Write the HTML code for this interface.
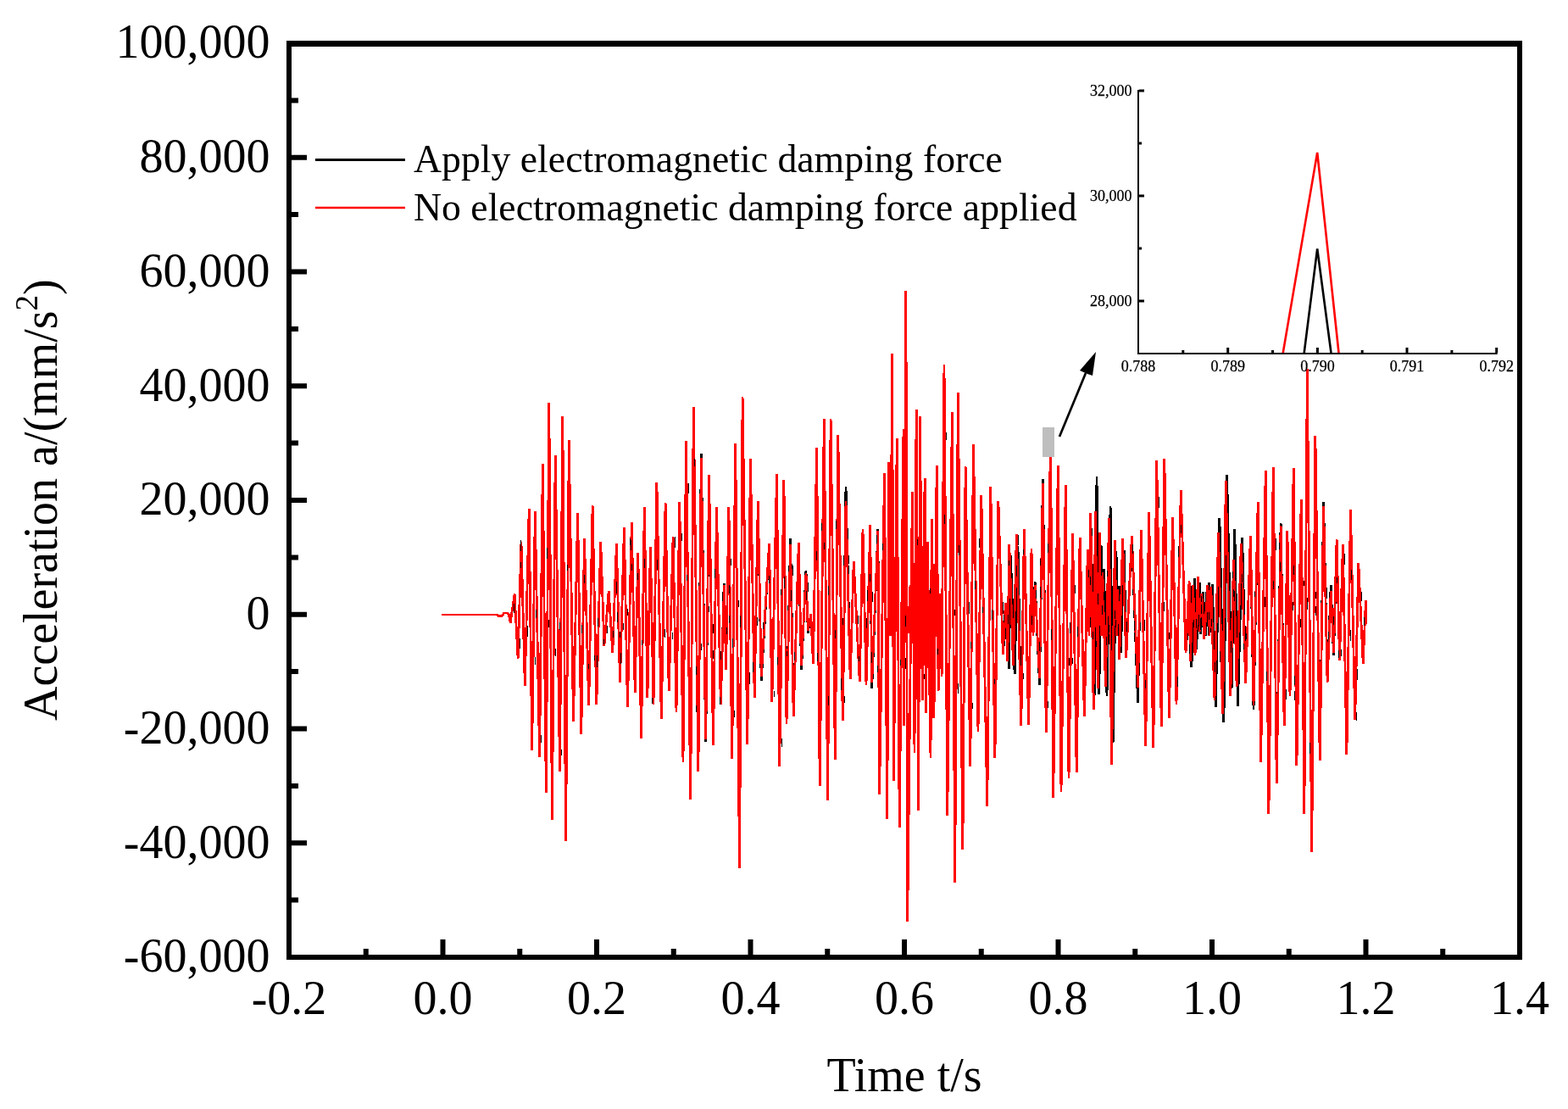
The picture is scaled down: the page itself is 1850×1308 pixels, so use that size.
<!DOCTYPE html><html><head><meta charset="utf-8"><style>html,body{margin:0;padding:0;background:#fff;width:1850px;height:1308px;overflow:hidden}svg{display:block}text{font-family:"Liberation Serif","Times New Roman",serif;fill:#000}</style></head><body><svg width="1850" height="1308" viewBox="0 0 1850 1308"><path d="M521.0 725.0 L587.0 725.0 L588.0 726.5 L592.5 726.5 L594.5 723.0 L598.5 723.0 L600.0 724.0 L602.2 734.4 L607.1 700.6 L611.1 776.5 L615.0 639.2 L619.3 808.7 L624.2 600.1 L627.7 885.2 L631.3 603.3 L636.6 893.0 L640.3 547.3 L644.3 935.2 L647.8 475.0 L651.4 967.3 L655.2 537.4 L660.5 909.6 L663.8 491.0 L667.6 991.7 L671.3 519.3 L676.5 850.9 L681.6 605.5 L685.8 866.4 L689.5 635.4 L694.7 832.0 L699.1 596.3 L703.8 831.0 L708.7 639.2 L712.9 761.5 L718.2 697.0 L722.8 769.5 L727.4 641.4 L731.5 805.4 L736.4 622.1 L740.4 834.2 L745.3 616.1 L749.2 816.5 L752.8 652.1 L756.6 871.3 L760.3 598.0 L763.9 822.7 L767.4 645.0 L771.0 830.9 L774.9 569.1 L780.3 847.5 L785.1 593.0 L789.2 815.4 L794.1 633.3 L798.0 839.8 L801.8 592.2 L806.0 899.0 L809.5 520.3 L814.7 942.9 L818.3 479.9 L823.9 910.4 L827.3 535.4 L832.7 875.1 L836.6 560.2 L841.5 879.4 L845.5 598.2 L850.3 831.0 L854.4 687.8 L856.6 790.2 L859.9 598.2 L863.7 894.5 L867.7 523.2 L872.5 1023.8 L876.1 468.4 L881.8 878.4 L885.4 541.0 L890.2 822.9 L894.3 590.9 L898.2 803.3 L907.6 641.2 L910.8 828.0 L916.5 559.4 L919.7 904.1 L924.9 565.8 L928.0 853.7 L932.6 634.6 L936.2 844.9 L942.3 639.6 L945.5 789.9 L951.0 672.9 L953.3 746.6 L956.7 724.5 L959.5 783.2 L963.6 527.7 L967.2 927.4 L972.3 494.4 L976.6 944.0 L980.1 494.4 L985.4 896.3 L988.8 513.4 L994.3 850.2 L998.0 574.2 L1003.2 801.4 L1007.2 662.1 L1014.3 804.3 L1018.0 624.0 L1022.0 807.6 L1026.7 619.4 L1028.7 811.6 L1035.9 624.0 L1037.6 937.4 L1043.5 558.2 L1046.8 965.7 L1048.8 544.7 L1050.7 750.0 L1052.6 417.1 L1054.5 921.0 L1058.2 517.5 L1061.2 975.5 L1066.0 506.2 L1066.7 856.1 L1068.9 343.2 L1070.7 1087.2 L1076.4 580.2 L1079.0 888.2 L1081.1 482.7 L1083.6 955.6 L1085.5 491.4 L1088.2 825.5 L1091.1 564.5 L1092.7 840.8 L1094.3 638.8 L1098.0 894.4 L1099.6 612.1 L1101.9 846.9 L1105.2 549.4 L1107.1 814.8 L1109.1 700.0 L1111.1 798.0 L1114.0 430.3 L1117.8 961.7 L1123.4 486.1 L1126.7 1041.3 L1130.3 463.2 L1135.9 1001.5 L1139.1 550.4 L1144.8 903.5 L1148.5 524.4 L1154.0 862.6 L1157.8 583.7 L1164.8 950.7 L1168.8 574.0 L1173.9 893.7 L1177.9 591.1 L1183.3 771.7 L1188.0 712.9 L1190.4 788.7 L1192.4 654.8 L1197.1 795.4 L1201.0 644.0 L1204.8 856.4 L1208.4 624.1 L1213.6 854.6 L1217.0 646.8 L1219.0 750.0 L1221.1 686.4 L1226.5 807.6 L1230.4 565.4 L1234.3 864.2 L1239.5 517.0 L1242.7 940.7 L1248.3 549.0 L1252.0 933.6 L1257.3 572.0 L1261.0 918.4 L1265.6 629.3 L1270.2 910.6 L1274.1 633.9 L1279.4 845.0 L1283.3 647.7 L1285.0 750.0 L1286.7 605.2 L1291.8 819.8 L1294.0 561.6 L1296.8 818.9 L1299.1 642.7 L1300.8 746.2 L1302.5 670.6 L1306.0 820.5 L1310.1 596.7 L1313.1 875.8 L1317.0 650.5 L1318.7 746.2 L1320.4 691.3 L1322.3 770.0 L1326.2 648.9 L1328.7 776.2 L1335.4 631.6 L1342.5 828.5 L1346.4 625.4 L1351.7 880.1 L1355.6 604.1 L1360.8 882.4 L1364.7 543.3 L1370.3 856.5 L1373.8 541.0 L1379.5 846.9 L1383.6 610.3 L1388.0 831.3 L1393.3 578.4 L1399.0 770.0 L1404.7 691.1 L1405.9 787.2 L1409.3 682.1 L1411.6 765.8 L1415.1 686.6 L1416.7 748.2 L1419.4 698.1 L1422.4 749.6 L1426.5 686.7 L1428.4 746.2 L1430.4 689.0 L1434.3 834.2 L1438.9 611.0 L1443.9 852.1 L1447.6 559.8 L1453.1 811.6 L1456.8 623.6 L1460.4 833.1 L1465.7 633.9 L1469.7 806.0 L1475.4 632.2 L1479.0 836.9 L1484.2 591.6 L1487.6 899.2 L1493.2 554.9 L1496.9 960.3 L1502.3 550.7 L1506.2 923.6 L1511.1 616.7 L1515.2 856.4 L1518.9 626.5 L1522.0 821.0 L1526.2 552.0 L1529.9 903.3 L1535.2 589.1 L1538.9 960.3 L1542.3 435.0 L1547.7 1005.0 L1551.9 514.1 L1557.2 896.7 L1561.6 592.3 L1566.1 805.0 L1570.2 690.0 L1573.5 773.3 L1577.1 636.3 L1580.5 778.7 L1584.4 642.0 L1588.9 889.6 L1593.5 601.5 L1598.7 849.2 L1602.8 664.4 L1608.2 782.6 L1611.4 708.5 L1611.8 736.0" stroke="#000" fill="none" stroke-width="2.8" stroke-linejoin="bevel" shape-rendering="crispEdges"/>
<path d="M521.0 725.0 L587.0 725.0 L588.0 726.5 L592.5 726.5 L594.5 723.0 L598.5 723.0 L600.0 724.0 L602.2 734.4 L607.1 700.6 L611.1 776.5 L615.0 639.2 L619.3 808.7 L624.2 600.1 L627.7 885.2 L631.3 603.3 L636.6 893.0 L640.3 547.3 L644.3 935.2 L647.8 475.0 L651.4 967.3 L655.2 537.4 L660.5 909.6 L663.8 491.0 L667.6 991.7 L671.3 519.3 L676.5 850.9 L681.6 605.5 L685.8 866.4 L689.5 635.4 L694.7 832.0 L699.1 596.3 L703.8 831.0 L708.7 639.2 L712.9 761.5 L718.2 697.0 L722.8 769.5 L727.4 641.4 L731.5 805.4 L736.4 622.1 L740.4 834.2 L745.3 616.1 L749.2 816.5 L752.8 652.1 L756.6 871.3 L760.3 598.0 L763.9 822.7 L767.4 645.0 L771.0 830.9 L774.9 569.1 L780.3 847.5 L785.1 593.0 L789.2 815.4 L794.1 633.3 L798.0 839.8 L801.8 592.2 L806.0 899.0 L809.5 520.3 L814.7 942.9 L818.3 479.9 L823.9 910.4 L827.3 540.0 L832.7 872.0 L836.6 560.2 L841.5 879.4 L845.5 598.2 L850.3 831.0 L854.4 690.0 L856.6 790.2 L859.9 598.2 L863.7 894.5 L867.7 523.2 L872.5 1023.8 L876.1 468.4 L881.8 878.4 L885.4 541.0 L890.2 822.9 L894.3 590.9 L898.2 798.0 L907.6 641.2 L910.8 828.0 L916.5 559.4 L919.7 904.1 L924.9 565.8 L928.0 853.7 L932.6 642.0 L936.2 844.9 L942.3 639.6 L945.5 785.0 L951.0 676.0 L953.3 744.0 L956.7 724.5 L959.5 783.2 L963.6 527.7 L967.2 927.4 L972.3 494.4 L976.6 944.0 L980.1 494.4 L985.4 896.3 L988.8 513.4 L994.3 850.2 L998.0 591.4 L1003.2 801.4 L1007.2 662.1 L1014.3 804.3 L1018.0 624.0 L1022.0 807.6 L1026.7 619.4 L1028.7 805.0 L1035.9 626.3 L1037.6 937.4 L1043.5 558.2 L1046.8 965.7 L1048.8 544.7 L1050.7 750.0 L1052.6 417.1 L1054.5 921.0 L1058.2 517.5 L1061.2 975.5 L1066.0 506.2 L1066.7 856.1 L1068.9 343.2 L1070.7 1087.2 L1076.4 580.2 L1079.0 888.2 L1081.1 482.7 L1083.6 955.6 L1085.5 491.4 L1088.2 825.5 L1091.1 564.5 L1092.7 840.8 L1094.3 638.8 L1098.0 894.4 L1099.6 612.1 L1101.9 846.9 L1105.2 549.4 L1107.1 814.8 L1109.1 700.0 L1111.1 798.0 L1114.0 430.3 L1117.8 961.7 L1123.4 486.1 L1126.7 1041.3 L1130.3 463.2 L1135.9 1001.5 L1139.1 550.4 L1144.8 903.5 L1148.5 524.4 L1154.0 862.6 L1157.8 583.7 L1164.8 950.7 L1168.8 574.0 L1173.9 893.7 L1177.9 591.1 L1183.3 771.7 L1186.4 710.8 L1188.8 780.0 L1190.8 642.4 L1195.5 785.0 L1199.4 629.7 L1204.8 856.4 L1208.4 624.1 L1213.6 854.6 L1217.0 646.8 L1219.0 750.0 L1221.1 690.0 L1226.5 800.0 L1230.4 570.3 L1234.3 864.2 L1239.5 517.0 L1242.7 940.7 L1248.3 549.0 L1252.0 933.6 L1257.3 572.0 L1261.0 918.4 L1265.6 629.3 L1270.2 910.6 L1274.1 633.9 L1279.4 845.0 L1283.3 647.7 L1285.0 750.0 L1286.7 605.2 L1290.2 836.5 L1292.4 603.0 L1295.2 812.0 L1297.5 628.2 L1299.2 750.0 L1300.9 675.0 L1304.4 810.0 L1308.5 611.0 L1311.5 902.4 L1315.4 637.3 L1317.1 750.0 L1318.8 695.0 L1320.7 778.0 L1324.6 635.5 L1328.7 776.2 L1335.4 631.6 L1342.5 811.0 L1346.4 625.4 L1351.7 880.1 L1355.6 604.1 L1360.8 882.4 L1364.7 543.3 L1370.3 856.5 L1373.8 541.0 L1379.5 846.9 L1383.6 610.3 L1388.0 831.3 L1393.3 578.4 L1399.0 770.0 L1403.1 685.1 L1404.3 780.0 L1407.7 690.0 L1410.0 773.0 L1413.5 679.8 L1415.1 745.0 L1417.8 700.0 L1420.8 753.9 L1424.9 690.0 L1426.8 750.0 L1428.8 692.0 L1433.0 826.2 L1437.6 628.2 L1442.6 842.3 L1446.3 567.4 L1451.8 821.2 L1455.5 659.8 L1459.1 810.0 L1464.4 640.8 L1469.7 806.0 L1475.4 632.2 L1479.0 832.0 L1484.2 591.6 L1487.6 899.2 L1493.2 554.9 L1496.9 960.3 L1502.3 550.7 L1506.2 923.6 L1511.1 620.0 L1515.2 856.4 L1518.9 626.5 L1522.0 821.0 L1526.2 552.0 L1529.9 903.3 L1535.2 589.1 L1538.9 960.3 L1542.3 435.0 L1547.7 1005.0 L1551.9 514.1 L1557.2 896.7 L1561.6 597.2 L1566.1 805.0 L1570.2 697.5 L1573.5 770.0 L1577.1 636.3 L1580.5 778.7 L1584.4 642.0 L1588.9 889.6 L1593.5 601.5 L1598.7 849.2 L1602.8 664.4 L1608.2 782.6 L1611.4 708.5 L1611.8 736.0" stroke="#f00" fill="none" stroke-width="2.8" stroke-linejoin="bevel" shape-rendering="crispEdges"/>
<path d="M1064.0 707.1 L1066.5 746.5 L1069.0 706.0 L1071.5 746.8 L1074.0 690.3 L1076.5 748.8 L1079.0 692.3 L1081.5 781.9 L1084.0 676.6 L1086.5 772.5 L1089.0 644.3 L1091.5 785.2 L1094.0 652.8 L1096.5 783.6 L1099.0 668.8 L1101.5 765.3 L1104.0 683.2 L1106.5 772.4 L1109.0 702.9 L1111.5 749.8" stroke="#f00" fill="none" stroke-width="2.8" stroke-linejoin="bevel" shape-rendering="crispEdges"/>
<path d="M606.5 711.9v10.8 M613.5 753.3v11.2 M614.5 663.2v6.5 M614.5 636.7v13.0 M622.5 738.4v10.7 M622.5 741.4v10.0 M631.5 774.9v9.3 M638.5 867.3v8.5 M632.5 719.1v10.1 M647.5 731.2v9.1 M645.5 646.2v12.8 M655.5 764.7v9.0 M662.5 884.2v6.6 M660.5 734.4v8.5 M669.5 665.9v7.1 M686.5 736.9v9.6 M689.5 678.4v9.4 M694.5 783.3v6.0 M704.5 773.4v14.0 M701.5 772.8v6.3 M705.5 729.2v9.5 M712.5 754.1v6.1 M716.5 738.0v9.0 M723.5 744.3v7.5 M727.5 686.2v13.3 M728.5 722.4v11.5 M732.5 770.1v13.1 M731.5 745.4v6.3 M735.5 735.1v7.9 M740.5 717.7v8.3 M743.5 635.4v7.8 M745.5 664.8v8.2 M744.5 636.7v12.0 M752.5 676.1v7.4 M757.5 754.6v6.7 M760.5 659.2v10.7 M769.5 823.4v6.2 M775.5 659.8v11.8 M784.5 741.8v10.4 M793.5 745.6v8.8 M796.5 632.6v13.6 M804.5 629.2v9.0 M810.5 678.3v6.6 M812.5 570.1v11.8 M819.5 540.9v9.5 M821.5 831.8v8.5 M821.5 785.8v9.8 M827.5 759.4v8.0 M836.5 714.7v7.1 M841.5 735.8v11.3 M841.5 766.7v10.0 M843.5 670.8v11.1 M849.5 821.8v9.1 M850.5 768.3v10.0 M852.5 697.6v11.7 M857.5 739.9v8.2 M860.5 690.4v9.1 M862.5 658.5v8.6 M860.5 726.4v8.2 M866.5 837.6v8.5 M864.5 752.8v11.1 M871.5 707.9v7.9 M873.5 725.8v13.9 M884.5 793.1v13.7 M888.5 780.5v12.6 M893.5 727.6v10.3 M900.5 733.9v8.2 M907.5 678.6v9.1 M913.5 815.2v7.0 M917.5 774.8v9.0 M922.5 871.2v9.7 M921.5 694.6v7.7 M925.5 679.8v13.8 M933.5 696.0v13.3 M928.5 767.7v6.3 M935.5 667.3v12.1 M937.5 769.4v9.4 M951.5 696.8v11.5 M953.5 687.3v10.6 M963.5 650.3v10.2 M964.5 769.9v10.2 M972.5 639.7v8.5 M969.5 617.4v8.4 M977.5 821.1v10.6 M977.5 691.2v10.8 M985.5 742.5v10.1 M986.5 613.7v9.9 M992.5 800.1v13.4 M996.5 820.9v8.2 M1001.5 654.6v10.2 M1012.5 725.5v10.9 M1013.5 773.7v6.1 M1022.5 729.1v11.8 M1023.5 695.8v12.8 M1029.5 698.0v11.7 M1026.5 677.2v9.0 M1028.5 768.7v12.9 M1034.5 630.5v10.2 M1035.5 785.4v7.9 M1041.5 640.8v8.5 M1062.5 778.1v6.8 M1068.5 775.5v13.3 M1068.5 726.3v12.4 M1082.5 635.9v7.2 M1090.5 794.7v6.6 M1097.5 693.5v6.1 M1106.5 765.4v6.8 M1114.5 607.1v10.6 M1116.5 510.4v8.2 M1126.5 718.7v7.1 M1130.5 806.1v12.1 M1131.5 642.9v11.8 M1143.5 710.0v13.9 M1145.5 756.8v7.9 M1147.5 828.6v7.7 M1150.5 685.0v10.3 M1155.5 634.6v11.6 M1159.5 716.4v6.9 M1170.5 718.8v12.1 M1173.5 800.5v6.8 M1183.5 710.1v13.7 M1186.5 741.3v12.5 M1184.5 724.8v9.1 M1189.5 724.7v10.8 M1191.5 706.4v10.5 M1190.5 660.6v6.1 M1201.5 630.9v12.0 M1199.5 666.9v13.2 M1207.5 794.4v6.6 M1207.5 647.6v6.4 M1217.5 726.1v11.0 M1222.5 696.2v9.5 M1226.5 756.7v10.8 M1227.5 691.6v13.6 M1227.5 659.1v7.9 M1236.5 826.5v8.2 M1236.5 640.5v11.1 M1240.5 742.4v13.0 M1261.5 776.0v9.4 M1265.5 776.4v6.6 M1262.5 733.9v13.3 M1268.5 689.9v9.9 M1271.5 738.5v12.7 M1286.5 728.1v12.0 M1284.5 672.0v9.0 M1286.5 680.1v9.4 M1291.5 806.9v10.6 M1289.5 744.7v9.5 M1295.5 700.3v12.5 M1293.5 756.4v6.6 M1299.5 668.7v10.0 M1300.5 713.8v11.3 M1302.5 697.7v10.6 M1305.5 750.8v10.2 M1306.5 673.4v6.7 M1308.5 737.3v8.9 M1317.5 653.9v12.4 M1319.5 735.8v13.0 M1315.5 719.7v10.4 M1319.5 736.7v13.7 M1316.5 731.3v8.2 M1321.5 694.4v6.2 M1329.5 733.2v12.1 M1336.5 642.0v11.4 M1338.5 732.3v11.7 M1350.5 731.3v12.8 M1351.5 801.9v10.2 M1367.5 585.5v13.3 M1373.5 709.6v11.5 M1379.5 746.2v8.2 M1389.5 797.8v11.8 M1390.5 643.8v13.3 M1393.5 618.7v10.7 M1403.5 759.8v10.7 M1407.5 752.8v10.8 M1408.5 731.2v9.2 M1411.5 729.6v11.3 M1416.5 729.3v13.8 M1414.5 725.0v9.3 M1414.5 728.2v11.1 M1417.5 713.1v10.6 M1417.5 703.3v6.7 M1422.5 697.8v12.3 M1425.5 738.7v10.3 M1429.5 730.4v8.5 M1426.5 721.7v8.9 M1433.5 781.1v12.0 M1439.5 767.9v12.9 M1446.5 729.5v12.2 M1452.5 756.4v13.5 M1456.5 697.0v12.0 M1455.5 694.6v9.0 M1454.5 673.7v8.6 M1465.5 677.0v9.6 M1467.5 759.0v7.1 M1470.5 746.9v7.5 M1480.5 697.7v6.3 M1492.5 704.0v12.2 M1494.5 791.9v11.2 M1502.5 685.2v9.9 M1505.5 634.6v13.9 M1509.5 639.6v8.1 M1510.5 663.2v10.5 M1517.5 812.9v12.3 M1525.5 709.7v10.4 M1526.5 666.7v10.9 M1527.5 797.3v10.5 M1527.5 814.7v11.0 M1534.5 729.5v10.6 M1538.5 684.6v6.7 M1542.5 705.4v13.8 M1545.5 875.9v13.2 M1552.5 698.3v7.3 M1552.5 714.8v10.8 M1565.5 693.4v12.6 M1567.5 745.3v8.5 M1573.5 726.8v9.7 M1577.5 680.6v6.9 M1582.5 765.9v8.0 M1579.5 766.7v9.2 M1586.5 653.1v13.2 M1594.5 672.3v12.0 M1593.5 743.3v12.6 M1600.5 839.9v10.2 M1601.5 788.5v13.3 M1606.5 698.0v10.8 M1609.5 728.1v10.0" stroke="#000" stroke-width="1" fill="none" shape-rendering="crispEdges"/><rect x="341" y="51" width="1452" height="1078" fill="none" stroke="#000" stroke-width="6"/><rect x="338" y="54" width="1458" height="1" fill="#000"/><path d="M344 1061.62h8 M344 994.25h18 M344 926.88h8 M344 859.50h18 M344 792.12h8 M344 724.75h18 M344 657.38h8 M344 590.00h18 M344 522.62h8 M344 455.25h18 M344 387.88h8 M344 320.50h18 M344 253.12h8 M344 185.75h18 M344 118.38h8 M431.75 1126v-7 M522.50 1126v-18 M613.25 1126v-7 M704.00 1126v-18 M794.75 1126v-7 M885.50 1126v-18 M976.25 1126v-7 M1067.00 1126v-18 M1157.75 1126v-7 M1248.50 1126v-18 M1339.25 1126v-7 M1430.00 1126v-18 M1520.75 1126v-7 M1611.50 1126v-18 M1702.25 1126v-7" stroke="#000" stroke-width="6" fill="none"/><text x="318.5" y="1146.30" font-size="56" text-anchor="end">-60,000</text><text x="318.5" y="1011.55" font-size="56" text-anchor="end">-40,000</text><text x="318.5" y="876.80" font-size="56" text-anchor="end">-20,000</text><text x="318.5" y="742.05" font-size="56" text-anchor="end">0</text><text x="318.5" y="607.30" font-size="56" text-anchor="end">20,000</text><text x="318.5" y="472.55" font-size="56" text-anchor="end">40,000</text><text x="318.5" y="337.80" font-size="56" text-anchor="end">60,000</text><text x="318.5" y="203.05" font-size="56" text-anchor="end">80,000</text><text x="318.5" y="68.30" font-size="56" text-anchor="end">100,000</text><text x="341.00" y="1196" font-size="56" text-anchor="middle">-0.2</text><text x="522.50" y="1196" font-size="56" text-anchor="middle">0.0</text><text x="704.00" y="1196" font-size="56" text-anchor="middle">0.2</text><text x="885.50" y="1196" font-size="56" text-anchor="middle">0.4</text><text x="1067.00" y="1196" font-size="56" text-anchor="middle">0.6</text><text x="1248.50" y="1196" font-size="56" text-anchor="middle">0.8</text><text x="1430.00" y="1196" font-size="56" text-anchor="middle">1.0</text><text x="1611.50" y="1196" font-size="56" text-anchor="middle">1.2</text><text x="1793.00" y="1196" font-size="56" text-anchor="middle">1.4</text><text x="1067" y="1287" font-size="56" text-anchor="middle">Time t/s</text><text transform="translate(67,850) rotate(-90)" font-size="56">Acceleration a/(mm/s<tspan dy="-23" font-size="37">2</tspan><tspan dy="23">)</tspan></text><path d="M372 188.5H478" stroke="#000" stroke-width="3"/><path d="M372 245H478" stroke="#f00" stroke-width="2.5"/><text x="488" y="203" font-size="45.75">Apply electromagnetic damping force</text><text x="488" y="260" font-size="45.75">No electromagnetic damping force applied</text><rect x="1230" y="504" width="14" height="35" fill="#bebebe"/>
<path d="M1250 515 L1281 440" stroke="#000" stroke-width="2.7" fill="none"/>
<path d="M1293 415 L1274 437 L1283 441 L1289 443 Z" fill="#000"/>
<path d="M1513.6 417 L1554.2 180 L1579.6 417" fill="none" stroke="#f00" stroke-width="2.6" stroke-linejoin="bevel"/>
<path d="M1538.6 417 L1554.2 293.5 L1570.6 417" fill="none" stroke="#000" stroke-width="2.6" stroke-linejoin="bevel"/>
<rect x="1342" y="106" width="2" height="312" fill="#000"/>
<rect x="1342" y="416" width="424.7" height="2" fill="#000"/>
<rect x="1344" y="353.5" width="6" height="3" fill="#000"/>
<rect x="1344" y="291.5" width="3" height="3" fill="#000"/>
<rect x="1344" y="229.5" width="6" height="3" fill="#000"/>
<rect x="1344" y="167.5" width="3" height="3" fill="#000"/>
<rect x="1344" y="105.5" width="6" height="3" fill="#000"/>
<rect x="1394.3" y="413" width="3" height="3" fill="#000"/>
<rect x="1447.2" y="410" width="3" height="6" fill="#000"/>
<rect x="1500.0" y="413" width="3" height="3" fill="#000"/>
<rect x="1552.9" y="410" width="3" height="6" fill="#000"/>
<rect x="1605.7" y="413" width="3" height="3" fill="#000"/>
<rect x="1658.5" y="410" width="3" height="6" fill="#000"/>
<rect x="1711.4" y="413" width="3" height="3" fill="#000"/>
<rect x="1764.2" y="410" width="3" height="6" fill="#000"/>
<text x="1335.5" y="361.3" font-size="18" text-anchor="end" stroke="#000" stroke-width="0.25">28,000</text>
<text x="1335.5" y="237.3" font-size="18" text-anchor="end" stroke="#000" stroke-width="0.25">30,000</text>
<text x="1335.5" y="113.3" font-size="18" text-anchor="end" stroke="#000" stroke-width="0.25">32,000</text>
<text x="1343.0" y="438" font-size="18" stroke="#000" stroke-width="0.25" text-anchor="middle">0.788</text>
<text x="1448.7" y="438" font-size="18" stroke="#000" stroke-width="0.25" text-anchor="middle">0.789</text>
<text x="1554.4" y="438" font-size="18" stroke="#000" stroke-width="0.25" text-anchor="middle">0.790</text>
<text x="1660.0" y="438" font-size="18" stroke="#000" stroke-width="0.25" text-anchor="middle">0.791</text>
<text x="1765.7" y="438" font-size="18" stroke="#000" stroke-width="0.25" text-anchor="middle">0.792</text></svg></body></html>
